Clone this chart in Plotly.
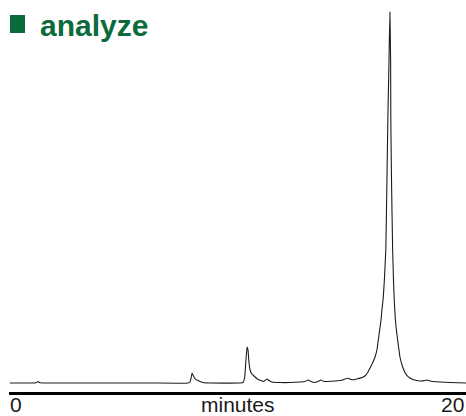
import plotly.graph_objects as go

# Chromatogram trace: retention time (minutes) and detector response (% of main peak)
time_min = [
    0.04, 0.92, 1.18, 1.27, 1.36, 1.53, 3.98, 6.17, 7.83, 7.92, 7.97, 8.01, 8.05,
    8.14, 8.27, 8.49, 8.80, 10.11, 10.24, 10.31, 10.37, 10.42, 10.46, 10.50, 10.55,
    10.63, 10.77, 10.90, 11.03, 11.12, 11.20, 11.29, 11.38, 11.51, 11.86, 12.30,
    12.74, 12.95, 13.09, 13.22, 13.35, 13.52, 13.65, 13.79, 13.92, 14.27, 14.57,
    14.70, 14.84, 14.97, 15.10, 15.27, 15.45, 15.58, 15.71, 15.80, 15.89, 16.02,
    16.11, 16.15, 16.21, 16.28, 16.32, 16.37, 16.42, 16.49, 16.54, 16.58, 16.63,
    16.67, 16.70, 16.71, 16.74, 16.79, 16.83, 16.86, 16.91, 16.98, 17.05, 17.11,
    17.20, 17.33, 17.42, 17.55, 17.68, 17.99, 18.21, 18.29, 18.42, 18.86, 19.30,
    20.00,
]
response = [
    0.00, 0.00, 0.05, 0.40, 0.05, 0.00, 0.00, 0.00, 0.00, 0.27, 1.35, 2.70, 2.16,
    1.21, 0.67, 0.13, 0.00, 0.00, 0.13, 1.35, 6.20, 9.70, 8.89, 5.66, 3.50,
    2.43, 1.62, 0.94, 0.67, 0.40, 0.67, 1.08, 0.67, 0.27, 0.13, 0.13,
    0.27, 0.40, 0.81, 0.40, 0.13, 0.40, 0.81, 0.40, 0.40, 0.54, 0.73,
    1.08, 1.27, 0.94, 0.89, 1.16, 1.48, 1.89, 2.96, 4.04, 5.12, 7.01,
    9.16, 11.05, 13.75, 16.98, 19.68, 22.37, 26.95, 35.85, 54.72, 70.89, 87.06,
    100.00, 87.06, 70.89, 54.72, 35.85, 26.95, 22.37, 16.98, 12.94, 9.70, 7.01,
    4.85, 2.83, 2.02, 1.35, 0.94, 0.54, 0.67, 0.81, 0.54, 0.27, 0.13,
    0.00,
]

x_range = [0, 20]
x_tick_labels = ["0", "minutes", "20"]

fig = go.Figure()
fig.add_trace(go.Scatter(
    x=time_min, y=response, mode="lines",
    line=dict(color="#1c1c1c", width=1.1, shape="spline", smoothing=0.4),
    hoverinfo="x+y", showlegend=False,
))

label_font = dict(family="Liberation Sans, Arial, sans-serif", size=21, color="#1a1a1a")
fig.add_annotation(x=0, y=-0.033, xref="paper", yref="paper", text=x_tick_labels[0],
                   showarrow=False, xanchor="left", yanchor="middle", font=label_font, xshift=-1)
fig.add_annotation(x=0.5, y=-0.033, xref="paper", yref="paper", text=x_tick_labels[1],
                   showarrow=False, xanchor="center", yanchor="middle", font=label_font)
fig.add_annotation(x=1, y=-0.033, xref="paper", yref="paper", text=x_tick_labels[2],
                   showarrow=False, xanchor="right", yanchor="middle", font=label_font)

# Header: green square marker plus bold title
green = "#0b6b3b"
fig.add_shape(type="rect", xref="paper", yref="paper",
              x0=(10 - 9) / 457, x1=(25 - 9) / 457,
              y0=(392 - 33) / 392, y1=(392 - 15) / 392,
              fillcolor=green, line=dict(width=0))
fig.add_annotation(x=(38 - 9) / 457, y=(392 - 25) / 392, xref="paper", yref="paper",
                   text="<b>analyze</b>", showarrow=False, xanchor="left", yanchor="middle",
                   font=dict(family="Liberation Sans, Arial, sans-serif", size=30, color=green))

fig.update_layout(
    width=466, height=416,
    margin=dict(l=9, r=0, t=0, b=24),
    paper_bgcolor="white", plot_bgcolor="white",
    xaxis=dict(range=x_range, showgrid=False, zeroline=False, showticklabels=False,
               ticks="", showline=True, linecolor="black", linewidth=3),
    yaxis=dict(range=[-2.426, 103.235], showgrid=False, zeroline=False,
               showticklabels=False, ticks="", showline=False),
)

fig.write_html("out.html")
